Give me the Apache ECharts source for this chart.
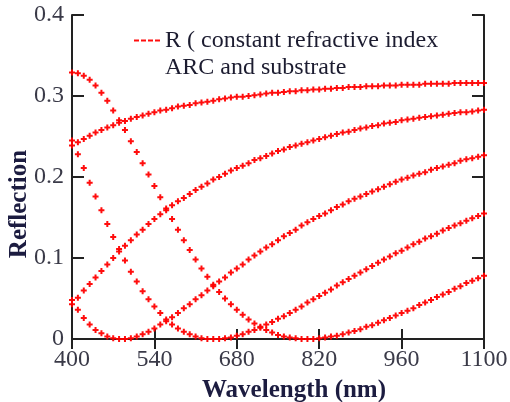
<!DOCTYPE html>
<html>
<head>
<meta charset="utf-8">
<script src="https://cdn.jsdelivr.net/npm/echarts@6/dist/echarts.min.js"></script>
<style>html,body{margin:0;padding:0;background:#fff}#c{width:510px;height:402px}</style>
</head>
<body>
<div id="c"></div>
<script>
const wavelengths = [400,410,420,430,440,450,460,470,480,490,500,510,520,530,540,550,560,570,580,590,600,610,620,630,640,650,660,670,680,690,700,710,720,730,740,750,760,770,780,790,800,810,820,830,840,850,860,870,880,890,900,910,920,930,940,950,960,970,980,990,1000,1010,1020,1030,1040,1050,1060,1070,1080,1090,1100];
const xTicks = [400,540,680,820,960,1100];
const yTicks = [0,0.1,0.2,0.3,0.4];
const seriesName = 'R ( constant refractive index\nARC and substrate';
const R1 = [.239,.243,.247,.251,.255,.258,.261,.264,.267,.269,.272,.274,.276,.278,.280,.282,.283,.285,.287,.288,.289,.291,.292,.293,.294,.296,.297,.298,.299,.299,.300,.301,.302,.303,.304,.304,.305,.306,.306,.307,.307,.308,.308,.309,.309,.310,.310,.311,.311,.311,.312,.312,.312,.313,.313,.313,.314,.314,.314,.314,.315,.315,.315,.315,.315,.316,.316,.316,.316,.316,.316];
const R2 = [.043,.051,.060,.068,.076,.084,.092,.100,.108,.115,.122,.129,.135,.142,.148,.154,.159,.165,.170,.174,.179,.184,.188,.192,.197,.200,.204,.208,.211,.214,.217,.221,.223,.226,.229,.232,.234,.237,.239,.241,.243,.245,.247,.249,.251,.253,.255,.256,.258,.260,.261,.263,.264,.266,.267,.268,.270,.271,.272,.273,.274,.275,.276,.277,.278,.279,.280,.280,.281,.282,.283];
const R3 = [.048,.036,.026,.018,.011,.007,.003,.001,.000,.000,.001,.003,.006,.009,.013,.018,.022,.027,.032,.038,.043,.049,.054,.060,.065,.071,.076,.082,.087,.092,.098,.103,.108,.113,.117,.122,.127,.131,.135,.140,.144,.148,.152,.155,.159,.163,.166,.170,.173,.176,.179,.182,.185,.188,.191,.194,.197,.199,.202,.204,.206,.209,.211,.213,.215,.217,.220,.222,.223,.225,.227];
const R4 = [.245,.228,.211,.193,.176,.159,.142,.126,.111,.097,.083,.071,.059,.049,.040,.032,.024,.018,.013,.009,.006,.003,.001,.000,.000,.000,.001,.002,.004,.006,.009,.011,.014,.018,.021,.025,.028,.032,.036,.040,.045,.049,.053,.057,.061,.066,.070,.074,.078,.082,.086,.090,.094,.098,.102,.106,.109,.113,.117,.120,.124,.127,.130,.134,.137,.140,.143,.146,.149,.152,.155];
const R5 = [.329,.328,.325,.320,.313,.304,.294,.282,.270,.258,.244,.231,.217,.203,.189,.175,.161,.148,.135,.122,.110,.098,.087,.077,.067,.058,.050,.043,.036,.030,.024,.019,.015,.011,.008,.005,.003,.002,.001,.000,.000,.000,.001,.002,.003,.004,.006,.008,.010,.012,.015,.017,.020,.023,.026,.029,.032,.035,.038,.042,.045,.048,.052,.055,.058,.062,.065,.069,.072,.075,.078];
const curves = [R1, R2, R3, R4, R5];

const PLUS = 'path://M2,0h2v2h2v2h-2v2h-2v-2h-2v-2h2z';
const DASH = 'path://M0,0h5v2h-5z M7,0h5v2h-5z M14,0h5v2h-5z M21,0h5v2h-5z';
const RED = '#ff0000';
const serif = '"Liberation Serif","Times New Roman",serif';

const chart = echarts.init(document.getElementById('c'), null, {renderer: 'canvas'});
const xCommon = {type: 'value', min: xTicks[0], max: xTicks[xTicks.length-1], interval: xTicks[1]-xTicks[0]};
const yCommon = {type: 'value', min: yTicks[0], max: yTicks[yTicks.length-1], interval: yTicks[1]-yTicks[0]};
const lineStyle = {color: '#222', width: 2};
chart.setOption({
  animation: false,
  backgroundColor: '#fff',
  grid: {left: 72, right: 26, top: 15, bottom: 63, containLabel: false, outerBoundsMode: 'none'},
  legend: {
    data: [seriesName],
    left: 134, top: 0, padding: 0,
    itemWidth: 26, itemHeight: 3, itemGap: 4,
    icon: DASH,
    itemStyle: {color: RED},
    formatter: function (n) { return '\n' + n; },
    textStyle: {fontFamily: serif, fontSize: 24, color: '#1c1c30', lineHeight: 27}
  },
  xAxis: [
    Object.assign({}, xCommon, {
      position: 'bottom',
      name: 'Wavelength (nm)', nameLocation: 'middle', nameGap: 39, nameMoveOverlap: false,
      nameTextStyle: {fontFamily: serif, fontSize: 25, fontWeight: 'bold', color: '#1c1c40', padding: [0, 0, 0, 32]},
      axisLine: {show: true, lineStyle: lineStyle},
      axisTick: {show: true, inside: true, length: 10, lineStyle: lineStyle},
      axisLabel: {show: true, margin: 9, fontFamily: serif, fontSize: 24, color: '#3a3a48', formatter: function (v) { return String(v); }},
      splitLine: {show: false}
    }),
    Object.assign({}, xCommon, {
      position: 'top',
      axisLine: {show: true, lineStyle: lineStyle},
      axisTick: {show: true, inside: true, length: 10, lineStyle: lineStyle},
      axisLabel: {show: false},
      splitLine: {show: false}
    })
  ],
  yAxis: [
    Object.assign({}, yCommon, {
      position: 'left',
      name: 'Reflection', nameLocation: 'middle', nameGap: 40, nameRotate: 90, nameMoveOverlap: false,
      nameTextStyle: {fontFamily: serif, fontSize: 25, fontWeight: 'bold', color: '#1c1c40', padding: [0, 54, 0, 0]},
      axisLine: {show: true, lineStyle: lineStyle},
      axisTick: {show: true, inside: true, length: 12, lineStyle: lineStyle},
      axisLabel: {show: true, margin: 8, fontFamily: serif, fontSize: 24, color: '#3a3a48', padding: [6, 0, 0, 0]},
      splitLine: {show: false}
    }),
    Object.assign({}, yCommon, {
      position: 'right',
      axisLine: {show: true, lineStyle: lineStyle},
      axisTick: {show: true, inside: true, length: 12, lineStyle: lineStyle},
      axisLabel: {show: false},
      splitLine: {show: false}
    })
  ],
  series: curves.map(function (vals) {
    return {
      name: seriesName,
      type: 'scatter',
      xAxisIndex: 0, yAxisIndex: 0,
      symbol: PLUS,
      symbolSize: 6,
      itemStyle: {color: RED, opacity: 0.95},
      emphasis: {disabled: true},
      data: wavelengths.map(function (w, i) { return [w, vals[i]]; })
    };
  })
});
</script>
</body>
</html>
